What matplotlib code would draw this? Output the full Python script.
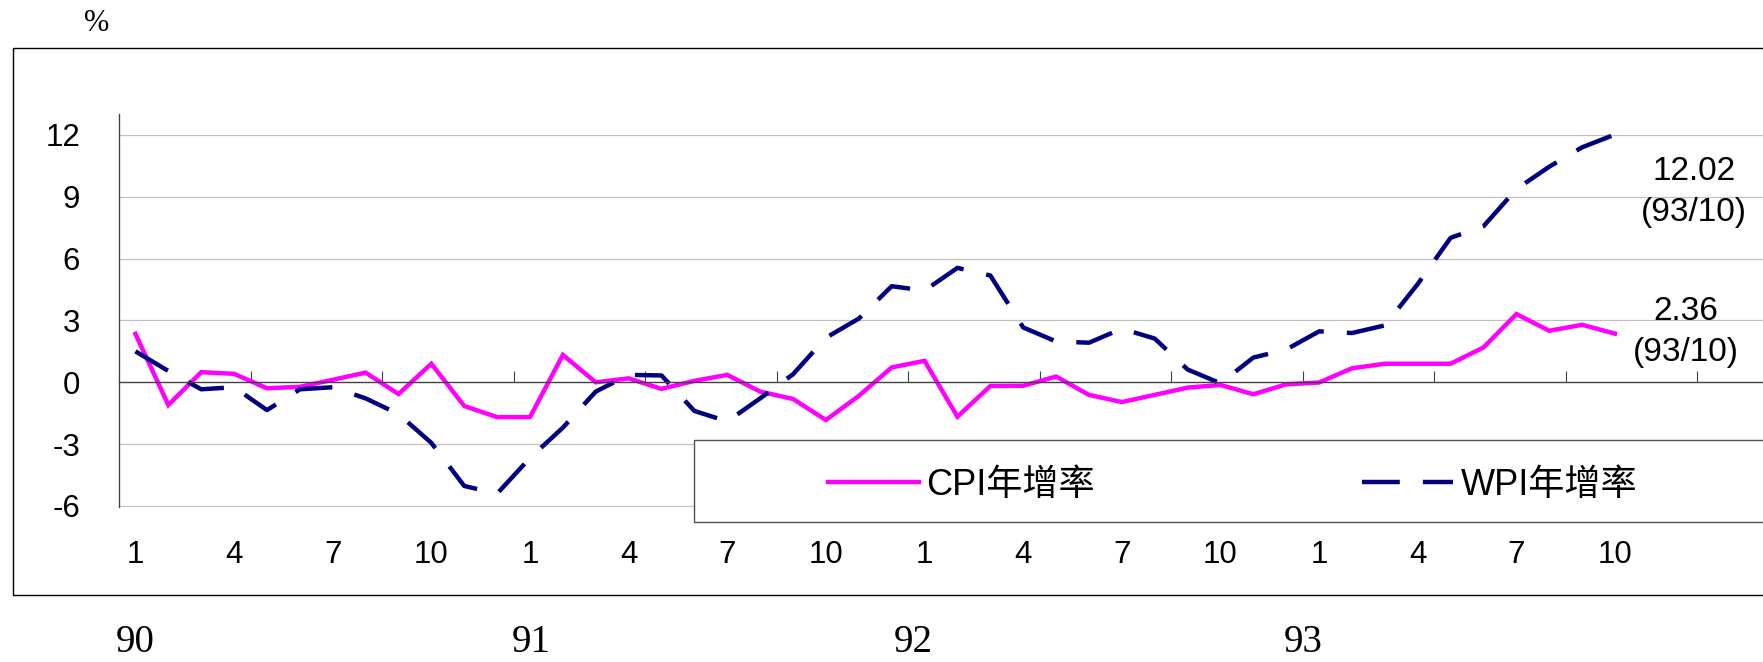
import numpy as np
import matplotlib
matplotlib.use("Agg")
import matplotlib.pyplot as plt
from matplotlib.patches import Rectangle

plt.rcParams['font.family'] = ['Liberation Sans', 'Noto Sans CJK TC']
plt.rcParams['axes.unicode_minus'] = False

# monthly data, 90/1 .. 93/10
cpi = [2.35, -1.10, 0.49, 0.41, -0.29, -0.22, 0.12, 0.47, -0.57, 0.90, -1.15, -1.69,
       -1.69, 1.33, 0.00, 0.19, -0.32, 0.07, 0.36, -0.45, -0.81, -1.83, -0.66, 0.72,
       1.04, -1.67, -0.18, -0.17, 0.28, -0.61, -0.96, -0.61, -0.26, -0.13, -0.58, -0.10,
       -0.01, 0.68, 0.90, 0.90, 0.90, 1.69, 3.31, 2.50, 2.79, 2.36]
wpi = [1.50, 0.55, -0.34, -0.24, -1.35, -0.34, -0.24, -0.78, -1.54, -2.94, -5.03, -5.40,
       -3.67, -2.20, -0.45, 0.36, 0.33, -1.39, -1.90, -0.78, 0.39, 2.16, 3.09, 4.66,
       4.45, 5.55, 5.18, 2.66, 1.98, 1.92, 2.60, 2.12, 0.62, -0.05, 1.20, 1.59,
       2.47, 2.39, 2.76, 4.77, 7.01, 7.57, 9.37, 10.46, 11.40, 12.02]
month_labels = ["1", "4", "7", "10"]
year_labels = ["90", "91", "92", "93"]
n_cats = 50          # category axis runs past the last data point
last_label = "(93/10)"

x = np.arange(len(cpi))
W, H = 1763, 662

fig = plt.figure(figsize=(W / 100, H / 100), dpi=100)
ax = fig.add_axes([119 / W, 1 - 507 / H, (W - 119) / W, (507 - 114.3) / H])

l1, = ax.plot(x, cpi, color="#FF00FF", lw=3.2, solid_joinstyle="miter", label="CPI年增率")
l2, = ax.plot(x, wpi, color="#000080", lw=3.2, linestyle=(0, (8.5, 5.2)),
              dash_capstyle="butt", label="WPI年增率")

ax.set_xlim(-0.5, n_cats - 0.5)
ax.set_ylim(-6.05, 13)
ax.set_yticks(range(-6, 13, 3))
ax.yaxis.grid(True, color="#C0C0C0", lw=0.9)
ax.set_axisbelow(True)
ax.tick_params(axis="y", length=0, pad=28, labelsize=22.5)

for s in ["top", "right"]:
    ax.spines[s].set_visible(False)
ax.spines["left"].set_color("#404040")
ax.spines["left"].set_linewidth(0.95)
ax.spines["bottom"].set_position(("data", 0))
ax.spines["bottom"].set_color("#404040")
ax.spines["bottom"].set_linewidth(0.95)
ax.set_xticks(np.arange(3.5, n_cats, 4))
ax.tick_params(axis="x", direction="in", length=7.7, width=0.8, color="#404040",
               labelbottom=False)

# month labels below the plot
sec = ax.secondary_xaxis("bottom")
mpos = np.arange(0, len(cpi), 3)
sec.set_xticks(mpos, [month_labels[i % 4] for i in range(len(mpos))])
sec.tick_params(length=0, pad=23.5, labelsize=22.5)
sec.spines["bottom"].set_visible(False)

# year labels, outside the frame
sec2 = ax.secondary_xaxis("bottom")
sec2.set_xticks([0, 12.05, 23.67, 35.53], year_labels)
sec2.tick_params(length=0, pad=84.5, labelsize=28)
for t in sec2.get_xticklabels():
    t.set_fontfamily("Liberation Serif")
sec2.spines["bottom"].set_visible(False)

# end-point labels
ax.annotate(f"{wpi[-1]:.2f}\n{last_label}", xy=(x[-1], wpi[-1]), xytext=(57, -41.4),
            textcoords="offset points", ha="center", va="center", fontsize=24,
            linespacing=1.4, annotation_clip=False)
ax.annotate(f"{cpi[-1]:.2f}\n{last_label}", xy=(x[-1], cpi[-1]), xytext=(51, 1),
            textcoords="offset points", ha="center", va="center", fontsize=24,
            linespacing=1.4, annotation_clip=False)

# chart frame and legend box
fig.patches.append(Rectangle((13 / W, 1 - 595 / H), 1.2, (595 - 48.3) / H, fill=False,
                             ec="black", lw=1.0, transform=fig.transFigure, figure=fig))
fig.patches.append(Rectangle((693.5 / W, 1 - 522.3 / H), 1.2, 82.3 / H, fc="white",
                             ec="#505050", lw=1.0, transform=fig.transFigure, figure=fig,
                             zorder=2))
fig.legend(handles=[l1, l2], loc="center left", bbox_to_anchor=(828 / W, 1 - 485 / H),
           bbox_transform=fig.transFigure, ncol=2, frameon=False, fontsize=26,
           handlelength=2.52, handletextpad=0.21, columnspacing=7.4,
           borderpad=0, borderaxespad=0)

fig.text(96.7 / W, 1 - 23.3 / H, "%", fontfamily="Liberation Serif", fontsize=22,
         ha="center", va="center")

fig.savefig("out.png", dpi=100)
